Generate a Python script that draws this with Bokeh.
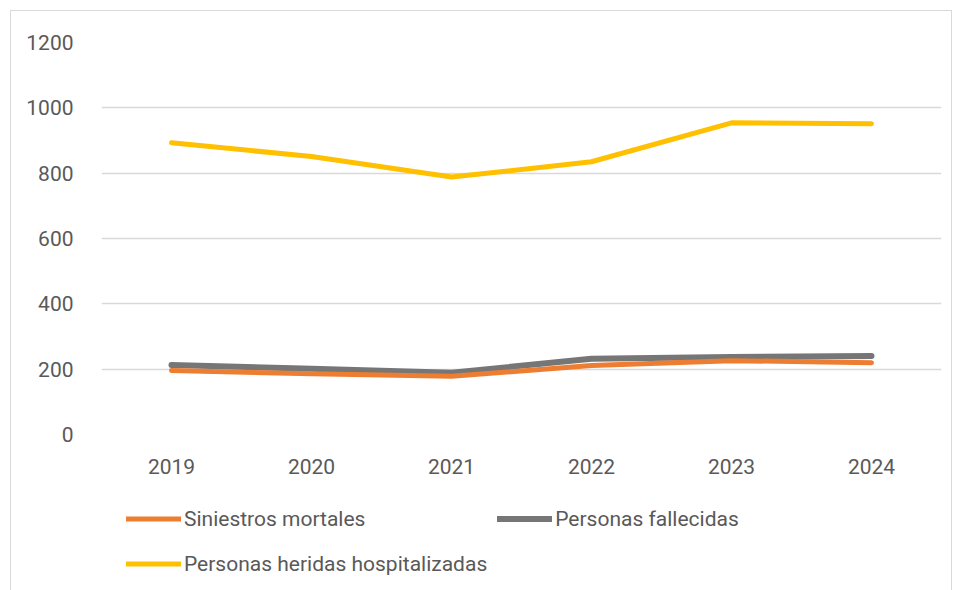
from bokeh.plotting import figure
from bokeh.models import Legend, LegendItem, FixedTicker
from bokeh.layouts import column
from bokeh.embed import file_html
from bokeh.resources import INLINE

years = ["2019", "2020", "2021", "2022", "2023", "2024"]
siniestros_mortales = [196, 186, 178, 211, 226, 220]
personas_fallecidas = [213, 201, 189, 232, 237, 240]
heridas_hospitalizadas = [893, 851, 788, 835, 954, 951]
y_ticks = [0, 200, 400, 600, 800, 1000, 1200]
series_names = ["Siniestros mortales", "Personas fallecidas",
                "Personas heridas hospitalizadas"]
series_colors = ["#ED7D31", "#767676", "#FFC000"]
series_widths = [5, 6, 5]

FONT = "Roboto"
TXT = "#595959"

p = figure(x_range=years, y_range=(0, 1200), width=940, height=479,
           output_backend="svg", toolbar_location=None,
           min_border_left=90, min_border_right=10, min_border_top=31,
           min_border_bottom=56)
p.outline_line_color = None
p.xgrid.grid_line_color = None
p.ygrid.grid_line_color = "#d9d9d9"
p.ygrid.grid_line_width = 1.5

p.yaxis.ticker = FixedTicker(ticks=y_ticks)
for ax in (p.xaxis[0], p.yaxis[0]):
    ax.axis_line_color = None
    ax.major_tick_line_color = None
    ax.minor_tick_line_color = None
    ax.major_label_text_font = FONT
    ax.major_label_text_font_size = "21px"
    ax.major_label_text_color = TXT
p.yaxis.major_label_standoff = 22
p.xaxis.major_label_standoff = 18

r1 = p.line(years, siniestros_mortales, line_color=series_colors[0],
            line_width=series_widths[0], line_cap="round")
r2 = p.line(years, personas_fallecidas, line_color=series_colors[1],
            line_width=series_widths[1], line_cap="round")
r3 = p.line(years, heridas_hospitalizadas, line_color=series_colors[2],
            line_width=series_widths[2], line_cap="round")
p.renderers = [r2, r1, r3]

# legend panel (separate figure so the legend is not clipped)
lf = figure(width=940, height=100, output_backend="svg", toolbar_location=None,
            x_range=(0, 1), y_range=(0, 1),
            min_border_left=0, min_border_right=0, min_border_top=0,
            min_border_bottom=0)
lf.axis.visible = False
lf.grid.visible = False
lf.outline_line_color = None
items = []
for name, col, w in zip(series_names, series_colors, series_widths):
    rr = lf.line(x=[-10, -9], y=[-10, -10], line_color=col, line_width=w,
                 line_cap="round")
    items.append(LegendItem(label=name, renderers=[rr]))

legend = Legend(items=items, orientation="horizontal", ncols=2)
legend.border_line_color = None
legend.background_fill_alpha = 0
legend.label_text_font = FONT
legend.label_text_font_size = "21px"
legend.label_text_color = TXT
legend.glyph_width = 55
legend.glyph_height = 35
legend.label_height = 35
legend.label_standoff = 3
legend.label_width = 200
legend.spacing = 10
legend.margin = 0
legend.padding = 0
legend.location = (25, 9)
lf.add_layout(legend, "center")

layout = column(p, lf, spacing=0, margin=(10, 5, 0, 10),
                styles={"border": "1px solid #d9d9d9"})

open("out.html", "w").write(file_html(layout, INLINE))
